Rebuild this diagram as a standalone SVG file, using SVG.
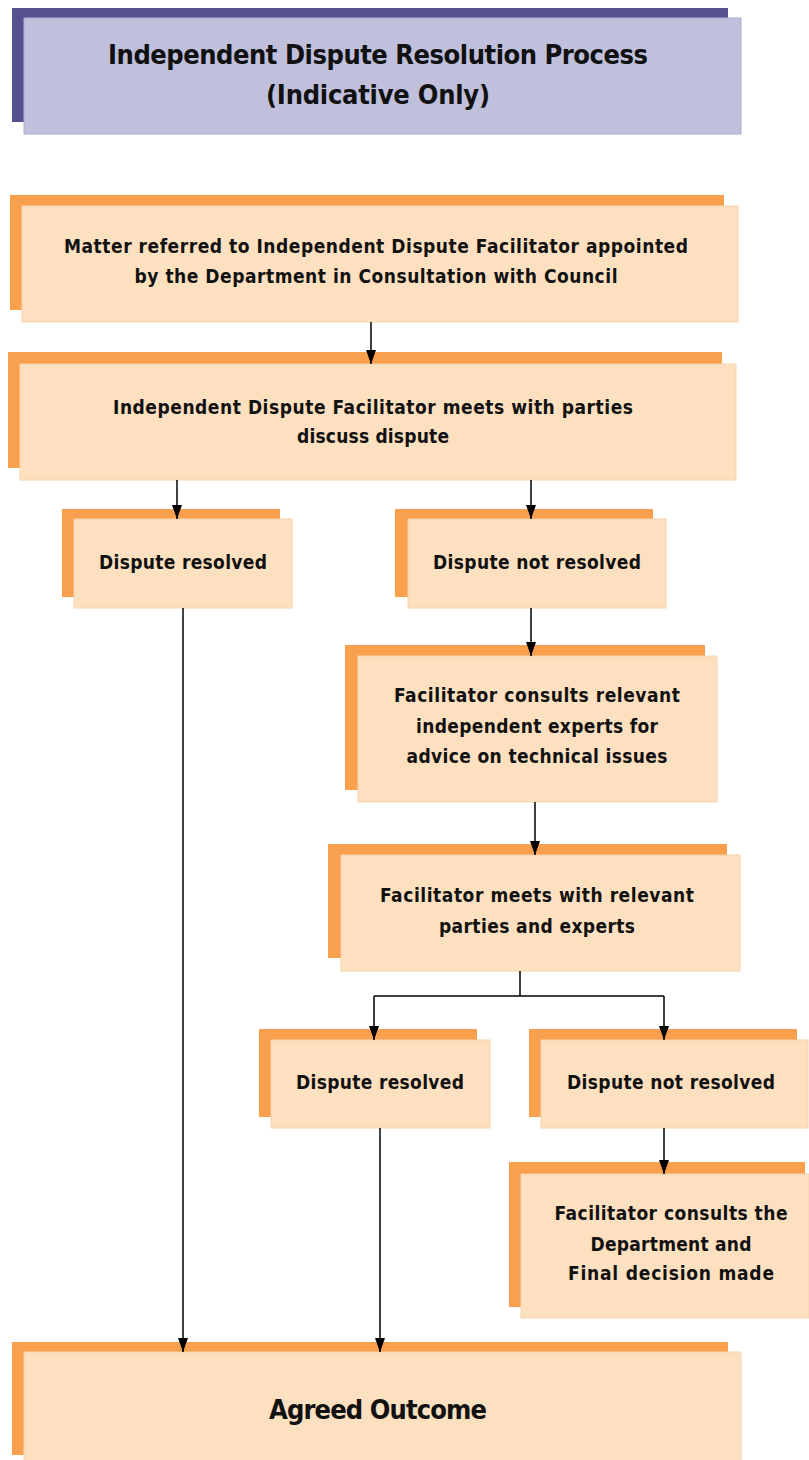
<svg xmlns="http://www.w3.org/2000/svg" width="809" height="1460" viewBox="0 0 809 1460">
<defs>
<style>
.back{fill:#f9a04e}
.front{fill:#fde0bf;stroke:#f6d2ad;stroke-width:1}
.tback{fill:#55508f}
.tfront{fill:#c0c0dc;stroke:#aeaed0;stroke-width:1}
text{font-family:"DejaVu Sans Condensed","Liberation Sans",sans-serif;font-weight:bold;fill:#111;text-anchor:middle}
.t{font-size:19px}
.big{font-size:27px}
.conn{stroke:#000;stroke-width:1.5;fill:none}
</style>
<marker id="ah" viewBox="0 0 14 10" refX="14" refY="5" markerWidth="14" markerHeight="10" markerUnits="userSpaceOnUse" orient="auto">
<path d="M0,0 L14,5 L0,10 Z" fill="#000"/>
</marker>
</defs>
<g id="title">
<rect class="tback" x="12" y="8" width="716" height="114"/>
<rect class="tfront" x="24" y="18" width="717" height="116"/>
<text class="big" x="378" y="64" textLength="540">Independent Dispute Resolution Process</text>
<text class="big" x="378" y="104" textLength="224">(Indicative Only)</text>
</g>
<g id="n1">
<rect class="back" x="10" y="195" width="714" height="115"/>
<rect class="front" x="22" y="206" width="716" height="116"/>
<text class="t" x="376" y="253" textLength="624">Matter referred to Independent Dispute Facilitator appointed</text>
<text class="t" x="376" y="283" textLength="483">by the Department in Consultation with Council</text>
</g>
<g id="n2">
<rect class="back" x="8" y="352" width="714" height="116"/>
<rect class="front" x="20" y="364" width="716" height="116"/>
<text class="t" x="373" y="414" textLength="520">Independent Dispute Facilitator meets with parties</text>
<text class="t" x="373" y="443" textLength="152">discuss dispute</text>
</g>
<g id="n3">
<rect class="back" x="62" y="509" width="218" height="88"/>
<rect class="front" x="74" y="519" width="218" height="89"/>
<text class="t" x="183" y="569" textLength="168">Dispute resolved</text>
</g>
<g id="n4">
<rect class="back" x="395" y="509" width="258" height="88"/>
<rect class="front" x="408" y="519" width="258" height="89"/>
<text class="t" x="537" y="569" textLength="208">Dispute not resolved</text>
</g>
<g id="n5">
<rect class="back" x="345" y="645" width="360" height="145"/>
<rect class="front" x="358" y="656" width="359" height="146"/>
<text class="t" x="537" y="702" textLength="286">Facilitator consults relevant</text>
<text class="t" x="537" y="733" textLength="242">independent experts for</text>
<text class="t" x="537" y="763" textLength="261">advice on technical issues</text>
</g>
<g id="n6">
<rect class="back" x="328" y="844" width="399" height="114"/>
<rect class="front" x="341" y="855" width="399" height="116"/>
<text class="t" x="537" y="902" textLength="314">Facilitator meets with relevant</text>
<text class="t" x="537" y="933" textLength="196">parties and experts</text>
</g>
<g id="n7">
<rect class="back" x="259" y="1029" width="218" height="88"/>
<rect class="front" x="271" y="1040" width="219" height="88"/>
<text class="t" x="380" y="1089" textLength="168">Dispute resolved</text>
</g>
<g id="n8">
<rect class="back" x="529" y="1029" width="268" height="88"/>
<rect class="front" x="541" y="1040" width="267" height="88"/>
<text class="t" x="671" y="1089" textLength="208">Dispute not resolved</text>
</g>
<g id="n9">
<rect class="back" x="509" y="1162" width="296" height="145"/>
<rect class="front" x="521" y="1174" width="288" height="144"/>
<text class="t" x="671" y="1220" textLength="233">Facilitator consults the</text>
<text class="t" x="671" y="1251" textLength="161">Department and</text>
<text class="t" x="671" y="1280" textLength="206">Final decision made</text>
</g>
<g id="n10">
<rect class="back" x="12" y="1342" width="716" height="113"/>
<rect class="front" x="24" y="1352" width="717" height="110"/>
<text class="big" x="378" y="1419" textLength="218">Agreed Outcome</text>
</g>
<g id="connectors">
<path class="conn" d="M371,322 V364" marker-end="url(#ah)"/>
<path class="conn" d="M177,480 V519" marker-end="url(#ah)"/>
<path class="conn" d="M531,480 V519" marker-end="url(#ah)"/>
<path class="conn" d="M183,608 V1352" marker-end="url(#ah)"/>
<path class="conn" d="M531,608 V656" marker-end="url(#ah)"/>
<path class="conn" d="M535,802 V855" marker-end="url(#ah)"/>
<path class="conn" d="M520,971 V996"/>
<path class="conn" d="M374,996 H664"/>
<path class="conn" d="M374,996 V1040" marker-end="url(#ah)"/>
<path class="conn" d="M664,996 V1040" marker-end="url(#ah)"/>
<path class="conn" d="M380,1128 V1352" marker-end="url(#ah)"/>
<path class="conn" d="M664,1128 V1174" marker-end="url(#ah)"/>
</g>
</svg>
